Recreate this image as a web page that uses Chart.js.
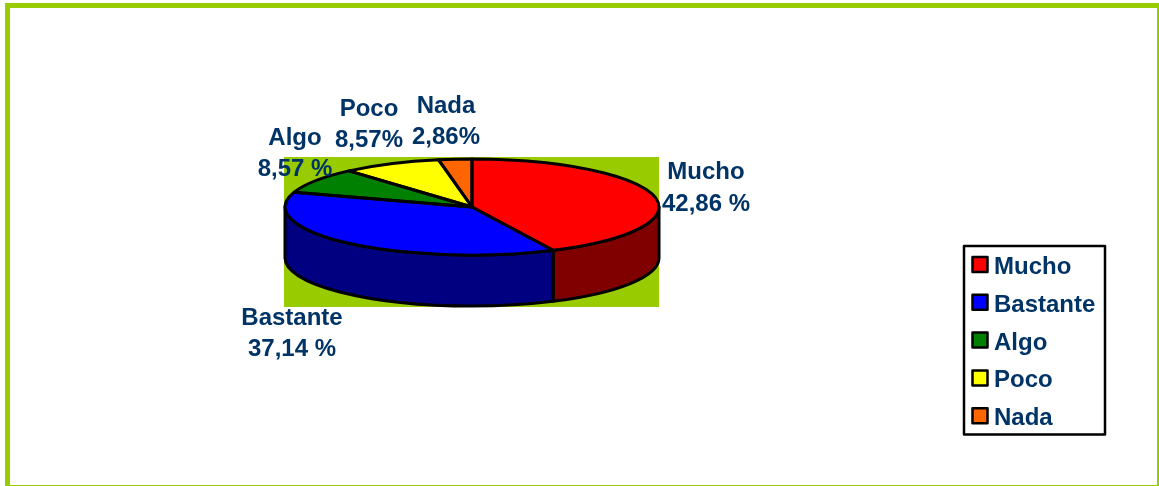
<!DOCTYPE html>
<html lang="es">
<head>
<meta charset="utf-8">
<title>Mucho / Bastante / Algo / Poco / Nada</title>
<script src="https://cdn.jsdelivr.net/npm/chart.js@4/dist/chart.umd.min.js"></script>
<style>
    html, body { margin: 0; padding: 0; background: #fff; overflow: hidden; }
    canvas { display: block; }
</style>
</head>
<body>
<canvas id="pie" width="1159" height="486"></canvas>
<script>
// Data
const categories = ['Mucho', 'Bastante', 'Algo', 'Poco', 'Nada'];
const percentages = [42.86, 37.14, 8.57, 8.57, 2.86];
const valueLabels = ['42,86 %', '37,14 %', '8,57 %', '8,57%', '2,86%'];

// Styles
const sliceColors = ['#ff0000', '#0000ff', '#008000', '#ffff00', '#ff6600'];
const sideColors = ['#800000', '#000080', '#004000', '#808000', '#803300'];
const frameColor = '#99cc00';
const textColor = '#003366';
const labelFont = 'bold 24px "Liberation Sans", Arial, sans-serif';

// Where each text label sits: [centre x, name baseline, value baseline]
const labelPlaces = [
    [706, 179, 211],
    [292, 325, 356],
    [295, 145, 176],
    [369, 116, 147],
    [446, 113, 144],
];

// The pie is drawn as a circle by Chart.js, then squashed onto this ellipse
const pieCentreY = 207;
const pieFlatRadius = 48;
const pieDepth = 51;

/**
 * Draws the frame and the green plot rectangle behind the pie.
 */
function drawBackground(ctx) {
    ctx.fillStyle = frameColor;
    ctx.fillRect(5, 3, 1154, 5);
    ctx.fillRect(5, 3, 5, 483);
    ctx.fillRect(1157, 3, 2, 483);
    ctx.fillRect(5, 485, 1154, 1);
    ctx.fillRect(284, 157, 375, 150);
}

/**
 * Draws the visible (front) part of the wall below each slice.
 */
function drawWalls(ctx, arcs) {
    arcs.forEach((arc, i) => {
        const { x, outerRadius, startAngle, endAngle } = arc.getProps(['x', 'outerRadius', 'startAngle', 'endAngle']);
        const from = Math.max(startAngle, 0);
        const to = Math.min(endAngle, Math.PI);
        if (from >= to) {
            return;
        }
        ctx.beginPath();
        ctx.ellipse(x, pieCentreY, outerRadius, pieFlatRadius, 0, from, to);
        ctx.ellipse(x, pieCentreY + pieDepth, outerRadius, pieFlatRadius, 0, to, from, true);
        ctx.closePath();
        ctx.fillStyle = sideColors[i];
        ctx.fill();
        ctx.stroke();
    });
}

/**
 * Strokes the slice outlines with an even line width on the flattened pie.
 */
function drawOutlines(ctx, arcs) {
    arcs.forEach(arc => {
        const { x, outerRadius, startAngle, endAngle } = arc.getProps(['x', 'outerRadius', 'startAngle', 'endAngle']);
        ctx.beginPath();
        ctx.moveTo(x, pieCentreY);
        ctx.ellipse(x, pieCentreY, outerRadius, pieFlatRadius, 0, startAngle, endAngle);
        ctx.closePath();
        ctx.stroke();
    });
}

function drawLabels(ctx) {
    ctx.font = labelFont;
    ctx.fillStyle = textColor;
    ctx.textAlign = 'center';
    ctx.textBaseline = 'alphabetic';
    categories.forEach((name, i) => {
        const [x, nameY, valueY] = labelPlaces[i];
        ctx.fillText(name, x, nameY);
        ctx.fillText(valueLabels[i], x, valueY);
    });
}

function drawLegend(ctx) {
    ctx.strokeStyle = '#000';
    ctx.lineWidth = 2.5;
    ctx.strokeRect(964, 246, 141, 188.5);
    ctx.font = labelFont;
    ctx.textAlign = 'left';
    ctx.textBaseline = 'alphabetic';
    categories.forEach((name, i) => {
        const y = 257 + i * 37.8;
        ctx.fillStyle = sliceColors[i];
        ctx.lineWidth = 2.5;
        ctx.fillRect(972.5, y, 15, 15);
        ctx.strokeRect(972.5, y, 15, 15);
        ctx.fillStyle = textColor;
        ctx.fillText(name, 994, y + 17);
    });
}

const pie3d = {
    id: 'pie3d',
    beforeDraw(chart) {
        drawBackground(chart.ctx);
    },
    beforeDatasetsDraw(chart) {
        const ctx = chart.ctx;
        const arcs = chart.getDatasetMeta(0).data;
        const { y, outerRadius } = arcs[0].getProps(['y', 'outerRadius']);
        ctx.save();
        ctx.strokeStyle = '#000';
        ctx.lineWidth = 3;
        ctx.lineJoin = 'round';
        drawWalls(ctx, arcs);
        ctx.restore();
        ctx.save();
        ctx.translate(0, pieCentreY);
        ctx.scale(1, pieFlatRadius / outerRadius);
        ctx.translate(0, -y);
    },
    afterDatasetsDraw(chart) {
        const ctx = chart.ctx;
        ctx.restore();
        ctx.save();
        ctx.strokeStyle = '#000';
        ctx.lineWidth = 3;
        ctx.lineJoin = 'round';
        drawOutlines(ctx, chart.getDatasetMeta(0).data);
        drawLabels(ctx);
        drawLegend(ctx);
        ctx.restore();
    },
};

new Chart(document.getElementById('pie'), {
    type: 'pie',
    data: {
        labels: categories,
        datasets: [{
            data: percentages,
            backgroundColor: sliceColors,
            borderWidth: 0,
        }],
    },
    options: {
        responsive: false,
        animation: false,
        layout: { padding: { left: 285, right: 500, top: 56, bottom: 56 } },
        plugins: {
            legend: { display: false },
            tooltip: { enabled: false },
        },
    },
    plugins: [pie3d],
});
</script>
</body>
</html>
